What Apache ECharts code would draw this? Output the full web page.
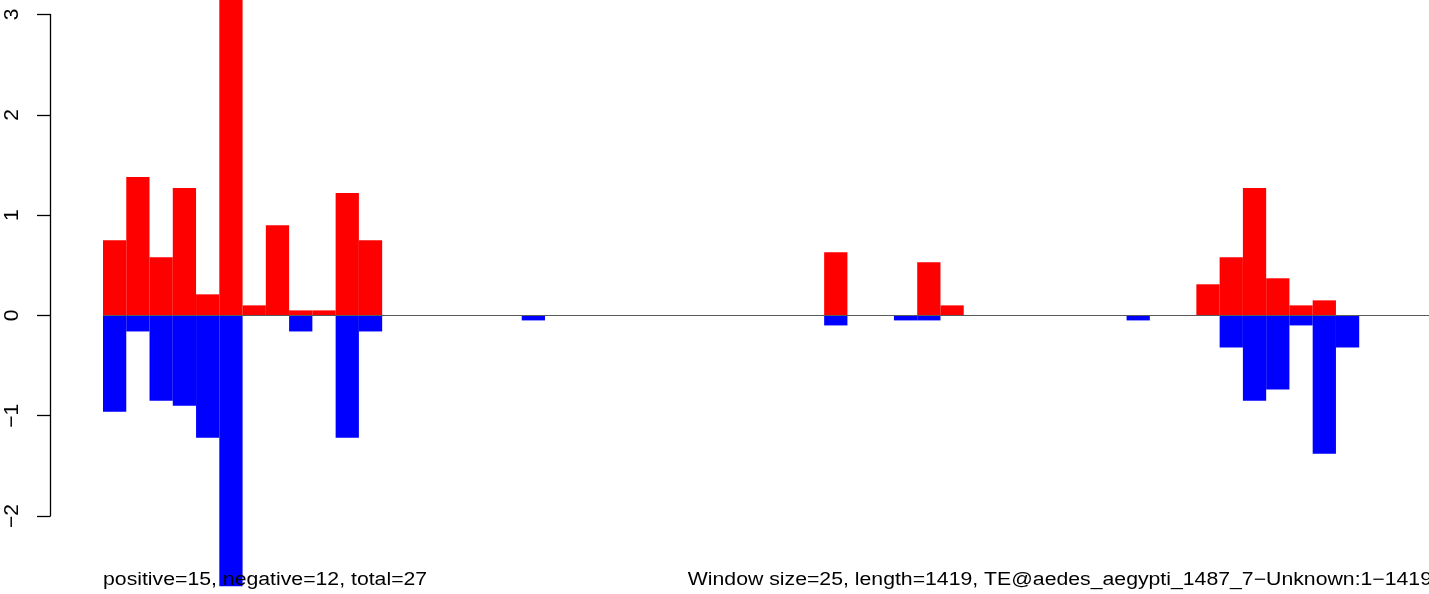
<!DOCTYPE html>
<html>
<head>
<meta charset="utf-8">
<script src="https://cdn.jsdelivr.net/npm/echarts@6/dist/echarts.min.js"></script>
<style>
html,body{margin:0;padding:0;background:#fff;}
#c{width:1429px;height:594px;}
</style>
</head>
<body>
<div id="c"></div>
<script>
// Window start positions (window size 25, sequence length 1419)
var windows = ["1","26","51","76","101","126","151","176","201","226","251","276","301","326","351","376","401","426","451","476","501","526","551","576","601","626","651","676","701","726","751","776","801","826","851","876","901","926","951","976","1001","1026","1051","1076","1101","1126","1151","1176","1201","1226","1251","1276","1301","1326","1351","1376","1401"];

// positive (red) values per window
var positiveValues = [0.75,1.38,0.58,1.27,0.21,3.4,0.1,0.9,0.05,0.05,1.22,0.75,null,null,null,null,null,null,null,null,null,null,null,null,null,null,null,null,null,null,null,0.63,null,null,null,0.53,0.1,null,null,null,null,null,null,null,null,null,null,0.31,0.58,1.27,0.37,0.1,0.15,null,null,null,null];

// negative (blue) values per window
var negativeValues = [-0.96,-0.16,-0.85,-0.9,-1.22,-2.7,null,null,-0.16,null,-1.22,-0.16,null,null,null,null,null,null,-0.05,null,null,null,null,null,null,null,null,null,null,null,null,-0.1,null,null,-0.05,-0.05,null,null,null,null,null,null,null,null,-0.05,null,null,null,-0.32,-0.85,-0.74,-0.1,-1.38,-0.32,null,null,null];

var yTicks = [-2,-1,0,1,2,3];

var leftText = "positive=15, negative=12, total=27";
var rightText = "Window size=25, length=1419, TE@aedes_aegypti_1487_7\u2212Unknown:1\u22121419";

var chart = echarts.init(document.getElementById('c'), null, {renderer:'canvas'});
var FONT = '"Liberation Sans", Arial, Helvetica, sans-serif';

chart.setOption({
  animation: false,
  backgroundColor: '#ffffff',
  grid: {left: 103, top: 14.5, width: 1334, height: 501.5, containLabel: false},
  xAxis: {
    type: 'category',
    data: windows,
    show: false,
    boundaryGap: true
  },
  yAxis: {
    type: 'value',
    min: yTicks[0],
    max: yTicks[yTicks.length-1],
    interval: 1,
    offset: 53,
    splitLine: {show: false},
    axisLine: {show: true, lineStyle: {color: '#000', width: 1.3}},
    axisTick: {show: true, length: 13, inside: false, lineStyle: {color: '#000', width: 1.3}},
    axisLabel: {
      rotate: 90,
      margin: 27,
      fontSize: 21,
      fontFamily: FONT,
      color: '#000',
      formatter: function(v){ return String(v).replace('-', '\u2212'); }
    }
  },
  series: [
    {
      type: 'line',
      data: [],
      z: 1,
      silent: true,
      markLine: {
        silent: true,
        symbol: 'none',
        label: {show: false},
        lineStyle: {color: '#5a5a5a', width: 1.2, type: 'solid'},
        data: [{yAxis: 0}]
      }
    },
    {
      name: 'positive',
      type: 'bar',
      data: positiveValues,
      z: 2,
      clip: false,
      barGap: '-100%',
      barCategoryGap: '0%',
      itemStyle: {color: '#ff0000'}
    },
    {
      name: 'negative',
      type: 'bar',
      data: negativeValues,
      z: 2,
      clip: false,
      barGap: '-100%',
      barCategoryGap: '0%',
      itemStyle: {color: '#0000ff'}
    }
  ],
  graphic: [
    {
      type: 'text',
      x: 103, y: 580,
      scaleX: 1.18,
      z: 100,
      style: {text: leftText, fontSize: 18, fontFamily: FONT, fill: '#000', align: 'left', verticalAlign: 'middle'}
    },
    {
      type: 'text',
      x: 1432, y: 580,
      scaleX: 1.18,
      z: 100,
      style: {text: rightText, fontSize: 18, fontFamily: FONT, fill: '#000', align: 'right', verticalAlign: 'middle'}
    }
  ]
});
</script>
</body>
</html>
